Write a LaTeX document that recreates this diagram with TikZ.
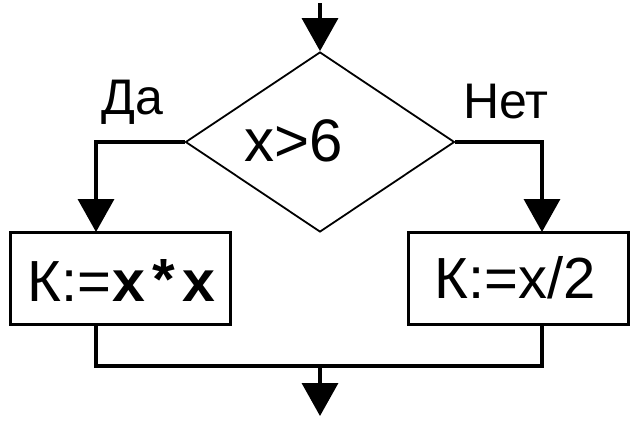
\documentclass[tikz,border=0pt]{standalone}
\usepackage{fontspec}
\setmainfont{Liberation Sans}
\newfontfamily\monob{Liberation Mono}
\usetikzlibrary{shapes.geometric,arrows.meta}
\begin{document}
\begin{tikzpicture}[x=1pt,y=-1pt,
  flow/.style={line width=3.5pt},
  arr/.style={flow,-{Triangle[width=36pt,length=33pt]}},
  procbox/.style={draw,line width=3pt,minimum width=220pt,minimum height=92pt,inner sep=0pt},
  cond/.style={draw,diamond,line width=1.8pt,minimum width=269pt,minimum height=180pt,inner sep=0pt},
  txt/.style={font=\fontsize{58}{60}\selectfont,inner sep=0pt}
]
\useasboundingbox[fill=white] (0,0) rectangle (630,421);
\coordinate (start) at (320,3);
\node[cond] (dec) at (320,142) {};
\node[txt,font=\fontsize{60}{62}\selectfont] (dectext) at (294,141) {x>6};
\node[procbox] (yesbox) at (120,278) {};
\node[procbox] (nobox) at (518,278) {};
\node[txt,anchor=center] (yestext) at (122,280) {К:=\textbf{\monob x*x}};
\node[txt] (notext) at (515,278) {К:=x/2};
\node[txt,font=\fontsize{50}{52}\selectfont] (yeslbl) at (132,102) {Да};
\node[txt,font=\fontsize{50}{52}\selectfont] (nolbl) at (506,102) {Нет};
\coordinate (yesin) at (96,232);
\coordinate (noin) at (542,232);
\coordinate (yesout) at (96,324);
\coordinate (noout) at (542,324);
\coordinate (merge) at (320,366);
\coordinate (finish) at (320,416);
\draw[arr] (start) -- (dec.north);
\draw[arr] (dec.west) -| (yesin);
\draw[arr] (dec.east) -| (noin);
\draw[flow] (yesout) |- (merge) -| (noout);
\draw[arr] (merge) -- (finish);
\end{tikzpicture}
\end{document}
